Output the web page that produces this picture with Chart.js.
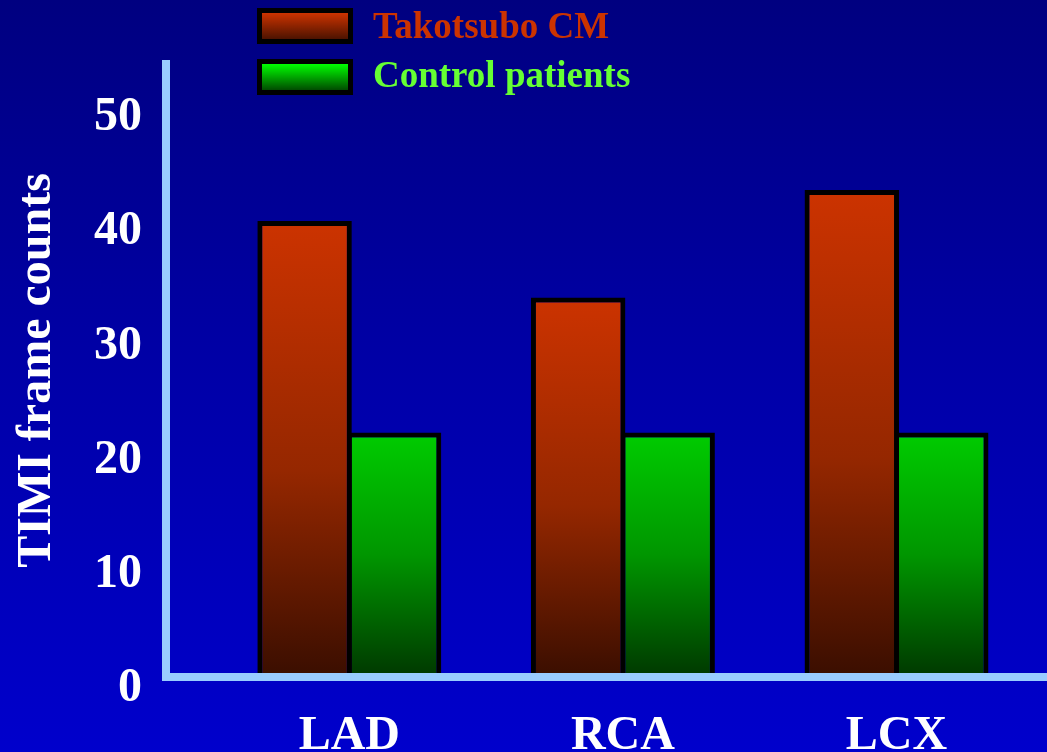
<!DOCTYPE html>
<html>
<head>
<meta charset="utf-8">
<title>TIMI frame counts</title>
<script src="https://cdn.jsdelivr.net/npm/chart.js@4.4.1/dist/chart.umd.min.js"></script>
<style>
  html, body { margin: 0; padding: 0; }
  body {
    width: 1047px; height: 752px; overflow: hidden;
    background: linear-gradient(to bottom, #000080 0%, #0000a8 50%, #0000cc 100%);
    font-family: "Liberation Serif", "Times New Roman", serif;
  }
  #wrap { position: relative; width: 1047px; height: 752px; }
  #legend { position: absolute; left: 257px; top: 8px; }
  .item { display: flex; align-items: flex-start; height: 36px; margin-bottom: 15px; }
  .swatch { box-sizing: border-box; width: 96px; height: 36px; border: 5px solid #000; }
  .label { margin-left: 20px; font: bold 37px/36px "Liberation Serif", "Times New Roman", serif; white-space: nowrap; position: relative; }
</style>
</head>
<body>
<div id="wrap">
  <canvas id="chart" width="1047" height="752"></canvas>
  <div id="legend"></div>
</div>
<script>
// Coronary arteries on the x axis
const categories = ['LAD', 'RCA', 'LCX'];
// Mean TIMI frame counts per artery
const takotsuboCounts = [39.9, 33.2, 42.6];
const controlCounts = [21.4, 21.4, 21.4];
// Labelled values on the y axis
const yTicks = [0, 10, 20, 30, 40, 50];
const seriesNames = ['Takotsubo CM', 'Control patients'];

// Vertical gradients for the bars (top of bar -> axis)
const redStops = [[0, '#cc3300'], [0.55, '#952700'], [1, '#3a0e00']];
const greenStops = [[0, '#00cc00'], [0.5, '#009600'], [1, '#003800']];
// Legend swatch colours and text colours
const swatchCss = [
  'linear-gradient(to bottom, #cc3300, #4d1300)',
  'linear-gradient(to bottom, #00ff00, #004c00)'
];
const textColors = ['#cc3300', '#66ff33'];
const textNudge = [0, -2];

const serif = '"Liberation Serif", "Times New Roman", serif';

function barFill(stops) {
  return (ctx) => {
    const chart = ctx.chart;
    if (!chart.chartArea || ctx.type !== 'data') return stops[0][1];
    const y = chart.scales.y;
    const top = y.getPixelForValue(ctx.parsed.y);
    const base = y.getPixelForValue(0);
    const g = chart.ctx.createLinearGradient(0, top, 0, base);
    stops.forEach(([o, c]) => g.addColorStop(o, c));
    return g;
  };
}

const toPoints = (vals) => vals.map((v, i) => ({ x: i, y: v }));

const htmlLegend = {
  id: 'htmlLegend',
  afterUpdate(chart) {
    const box = document.getElementById('legend');
    box.innerHTML = '';
    chart.data.datasets.forEach((ds, i) => {
      const item = document.createElement('div');
      item.className = 'item';
      const sw = document.createElement('div');
      sw.className = 'swatch';
      sw.style.background = swatchCss[i];
      const lab = document.createElement('div');
      lab.className = 'label';
      lab.style.color = textColors[i];
      lab.style.top = textNudge[i] + 'px';
      lab.textContent = ds.label;
      item.appendChild(sw);
      item.appendChild(lab);
      box.appendChild(item);
    });
  }
};

new Chart(document.getElementById('chart'), {
  type: 'bar',
  data: {
    datasets: [
      {
        label: seriesNames[0],
        data: toPoints(takotsuboCounts),
        backgroundColor: barFill(redStops),
        borderColor: '#000000',
        borderWidth: 5,
        borderSkipped: 'start'
      },
      {
        label: seriesNames[1],
        data: toPoints(controlCounts),
        backgroundColor: barFill(greenStops),
        borderColor: '#000000',
        borderWidth: 5,
        borderSkipped: 'start'
      }
    ]
  },
  options: {
    responsive: false,
    animation: false,
    events: [],
    categoryPercentage: 0.654,
    barPercentage: 1.056,
    layout: { padding: { top: 64, left: 0, right: 0, bottom: 0 } },
    plugins: {
      legend: { display: false },
      tooltip: { enabled: false }
    },
    scales: {
      x: {
        type: 'linear',
        offset: false,
        min: -0.670,
        max: 2.550,
        grid: { display: false, drawTicks: false, offset: false },
        border: { display: true, color: '#99ccff', width: 8, z: 1 },
        afterBuildTicks: (scale) => { scale.ticks = categories.map((c, i) => ({ value: i })); },
        afterFit: (scale) => { scale.height = 75; },
        ticks: {
          padding: 31,
          color: '#ffffff',
          font: { family: serif, size: 48, weight: 'bold' },
          maxRotation: 0,
          autoSkip: false,
          callback: (v) => categories[Math.round(v)]
        }
      },
      y: {
        min: 0,
        max: 53.63,
        grid: { display: false, drawTicks: false, lineWidth: 8 },
        border: { display: true, color: '#99ccff', width: 8 },
        afterBuildTicks: (scale) => { scale.ticks = yTicks.map((v) => ({ value: v })); },
        afterFit: (scale) => { scale.width = 166; },
        ticks: {
          padding: 24,
          labelOffset: 12,
          color: '#ffffff',
          font: { family: serif, size: 48, weight: 'bold' },
          callback: (v) => String(v)
        },
        title: {
          display: true,
          text: 'TIMI frame counts',
          color: '#ffffff',
          font: { family: serif, size: 48, weight: 'bold' },
          padding: { top: 9, bottom: 0 }
        }
      }
    }
  },
  plugins: [htmlLegend]
});
</script>
</body>
</html>
